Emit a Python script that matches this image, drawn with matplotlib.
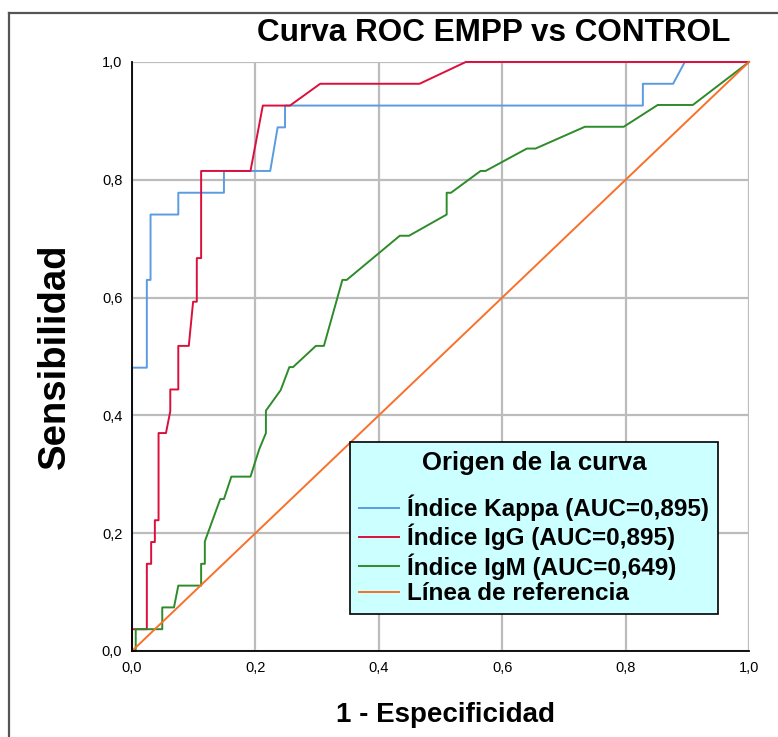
import matplotlib
matplotlib.use("Agg")
import matplotlib.pyplot as plt
from matplotlib.lines import Line2D

plt.rcParams['font.family'] = ['Liberation Sans', 'DejaVu Sans']

# Puntos de las curvas ROC (1 - especificidad, sensibilidad)
kappa_x = [0, 0, 0.024, 0.024, 0.030, 0.030, 0.075, 0.075, 0.149, 0.149, 0.224,
           0.236, 0.248, 0.248, 0.828, 0.828, 0.877, 0.896, 1.0]
kappa_y = [0, 0.481, 0.481, 0.630, 0.630, 0.741, 0.741, 0.778, 0.778, 0.815, 0.815,
           0.889, 0.889, 0.926, 0.926, 0.963, 0.963, 1.0, 1.0]

igg_x = [0, 0, 0.024, 0.024, 0.031, 0.031, 0.037, 0.037, 0.043, 0.043, 0.055,
         0.062, 0.062, 0.075, 0.075, 0.092, 0.099, 0.105, 0.105, 0.112, 0.112,
         0.192, 0.212, 0.256, 0.305, 0.466, 0.541, 1.0]
igg_y = [0, 0.037, 0.037, 0.148, 0.148, 0.185, 0.185, 0.222, 0.222, 0.370, 0.370,
         0.407, 0.444, 0.444, 0.518, 0.518, 0.593, 0.593, 0.667, 0.667, 0.815,
         0.815, 0.926, 0.926, 0.963, 0.963, 1.0, 1.0]

igm_x = [0, 0.006, 0.006, 0.049, 0.049, 0.068, 0.075, 0.112, 0.112, 0.118, 0.118,
         0.143, 0.149, 0.161, 0.192, 0.206, 0.217, 0.217, 0.241, 0.255, 0.261,
         0.298, 0.311, 0.341, 0.348, 0.434, 0.449, 0.510, 0.510, 0.517, 0.565,
         0.573, 0.640, 0.654, 0.734, 0.797, 0.852, 0.909, 1.0]
igm_y = [0, 0, 0.037, 0.037, 0.074, 0.074, 0.111, 0.111, 0.148, 0.148, 0.186,
         0.258, 0.258, 0.296, 0.296, 0.342, 0.370, 0.408, 0.443, 0.482, 0.482,
         0.518, 0.518, 0.630, 0.630, 0.705, 0.705, 0.741, 0.778, 0.778, 0.815,
         0.815, 0.853, 0.853, 0.890, 0.890, 0.927, 0.927, 1.0]

ref_x = [0, 1]
ref_y = [0, 1]

etiquetas = ["Índice Kappa (AUC=0,895)", "Índice IgG (AUC=0,895)",
             "Índice IgM (AUC=0,649)", "Línea de referencia"]
ticks = [0, 0.2, 0.4, 0.6, 0.8, 1.0]
tick_labels = ["0,0", "0,2", "0,4", "0,6", "0,8", "1,0"]

colores = ["#5b9be0", "#dc0f3c", "#2e8b2a", "#f8702a"]

fig = plt.figure(figsize=(7.78, 7.37), dpi=100)
ax = fig.add_axes([0.1697, 0.1167, 0.7930, 0.7992])

ax.plot(kappa_x, kappa_y, color=colores[0], lw=1.4, clip_on=False)
ax.plot(igg_x, igg_y, color=colores[1], lw=1.4, clip_on=False)
ax.plot(igm_x, igm_y, color=colores[2], lw=1.4, clip_on=False)
ax.plot(ref_x, ref_y, color=colores[3], lw=1.4, clip_on=False)

ax.set_xlim(0, 1)
ax.set_ylim(0, 1)
ax.set_xticks(ticks)
ax.set_xticklabels(tick_labels, fontsize=10.5)
ax.set_yticks(ticks)
ax.set_yticklabels(tick_labels, fontsize=10.5)
ax.tick_params(length=0, pad=7)
ax.grid(True, color="#bcbcbc", lw=1.6)
ax.set_axisbelow(True)
for s in ["top", "right"]:
    ax.spines[s].set_visible(False)
for s in ["left", "bottom"]:
    ax.spines[s].set_color("black")
    ax.spines[s].set_linewidth(1.3)

ax.set_xlabel("1 - Especificidad", fontsize=20, fontweight="bold")
ax.set_ylabel("Sensibilidad", fontsize=27.5, fontweight="bold")
ax.xaxis.set_label_coords(0.508, -0.109)
ax.xaxis.label.set_va("center")
ax.yaxis.set_label_coords(-0.125, 0.5)
ax.yaxis.label.set_va("center")

fig.text(0.634, 0.955, "Curva ROC EMPP vs CONTROL", fontsize=22.7,
         fontweight="bold", ha="center", va="center")

# Leyenda
handles = [Line2D([0], [0], color=c, lw=1.4) for c in colores]
leg = ax.legend(handles, etiquetas, loc="upper left",
                bbox_to_anchor=(350 / 778, 1 - 442 / 737),
                bbox_transform=fig.transFigure,
                title="Origen de la curva", fancybox=False, framealpha=1,
                facecolor="#ccffff", edgecolor="black",
                prop={"weight": "bold", "size": 17.5},
                handlelength=1.65, handletextpad=0.3, labelspacing=0.11,
                borderpad=0.38, borderaxespad=0)
leg.get_title().set_fontweight("bold")
leg.get_title().set_fontsize(18.5)
leg.get_frame().set_linewidth(1.2)
leg._legend_box.sep = 14

# Marco exterior
fig.add_artist(Line2D([9 / 778, 9 / 778], [0, 1 - 13 / 737], color="#555555",
                      lw=1.6, transform=fig.transFigure))
fig.add_artist(Line2D([9 / 778, 1], [1 - 13 / 737, 1 - 13 / 737], color="#555555",
                      lw=1.6, transform=fig.transFigure))

fig.savefig("out.png", dpi=100)
